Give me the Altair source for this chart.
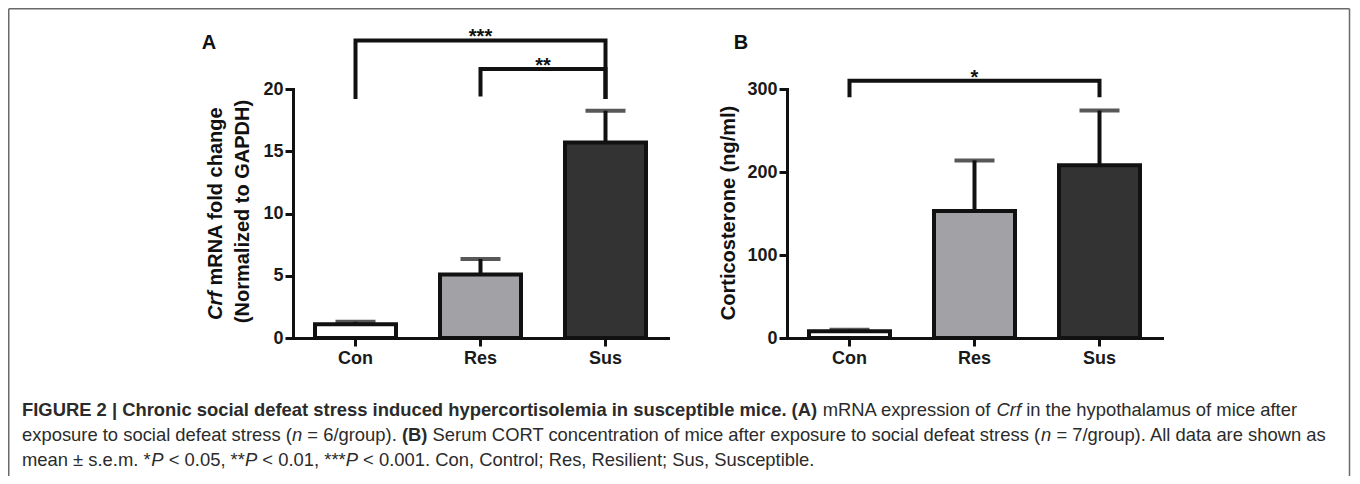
import math
import altair as alt
import pandas as pd

# ---------------- data ----------------
groups = ["Con", "Res", "Sus"]
crf_mean = [1.1, 5.1, 15.7]
crf_sem = [0.2, 1.25, 2.55]
cort_mean = [8.0, 153.0, 208.0]
cort_sem = [2.0, 61.0, 66.0]
crf_ticks = [0, 5, 10, 15, 20]
cort_ticks = [0, 100, 200, 300]

crf_br_from = ["Con", "Res"]
crf_br_to = ["Sus", "Sus"]
crf_br_top = [23.9, 21.6]
crf_br_left = [19.2, 19.4]
crf_br_right = [19.2, 19.2]
crf_br_label = ["***", "**"]

cort_br_from = ["Con"]
cort_br_to = ["Sus"]
cort_br_top = [310.0]
cort_br_left = [290.0]
cort_br_right = [290.0]
cort_br_label = ["*"]

caption_lines = [
    [("FIGURE 2 | Chronic social defeat stress induced hypercortisolemia in susceptible mice. (A)", "b"),
     (" mRNA expression of ", "n"), ("Crf", "i"), (" in the hypothalamus of mice after", "n")],
    [("exposure to social defeat stress (", "n"), ("n", "i"), (" = 6/group). ", "n"), ("(B)", "b"),
     (" Serum CORT concentration of mice after exposure to social defeat stress (", "n"), ("n", "i"),
     (" = 7/group). All data are shown as", "n")],
    [("mean \u00b1 s.e.m. *", "n"), ("P", "i"), (" < 0.05, **", "n"), ("P", "i"), (" < 0.01, ***", "n"),
     ("P", "i"), (" < 0.001. Con, Control; Res, Resilient; Sus, Susceptible.", "n")],
]

# ---------------- style ----------------
FONT = "Liberation Sans"
INK = "#111111"
fills = ["#ffffff", "#a2a2a6", "#333333"]
W, H = 375, 249
STEP = W / len(groups)
AX0, AY0 = 293, 89      # panel A plot origin (page px)
BX0 = 787               # panel B plot origin x

# Arial / Liberation Sans advance widths (1/1000 em)
REG = {' ': 278, '!': 278, '(': 333, ')': 333, '*': 389, '+': 584, ',': 278, '-': 333, '.': 278,
       '/': 278, ':': 278, ';': 278, '<': 584, '=': 584, '>': 584, '\u00b1': 584, '|': 260}
REG.update({d: 556 for d in "0123456789"})
REG.update(dict(zip("ABCDEFGHIJKLMNOPQRSTUVWXYZ",
                    [667, 667, 722, 722, 667, 611, 778, 722, 278, 500, 667, 556, 833, 722, 778, 667,
                     778, 722, 667, 611, 722, 667, 944, 667, 667, 611])))
REG.update(dict(zip("abcdefghijklmnopqrstuvwxyz",
                    [556, 556, 500, 556, 556, 278, 556, 556, 222, 222, 500, 222, 833, 556, 556, 556,
                     556, 333, 500, 278, 556, 500, 722, 500, 500, 500])))
BOLD = {' ': 278, '(': 333, ')': 333, '*': 389, ',': 278, '.': 278, '/': 278, ':': 333, ';': 333,
        '|': 280, '<': 584, '=': 584}
BOLD.update({d: 556 for d in "0123456789"})
BOLD.update(dict(zip("ABCDEFGHIJKLMNOPQRSTUVWXYZ",
                     [722, 722, 722, 722, 667, 611, 778, 722, 278, 556, 722, 611, 833, 722, 778, 667,
                      778, 722, 667, 611, 722, 667, 944, 667, 667, 611])))
BOLD.update(dict(zip("abcdefghijklmnopqrstuvwxyz",
                     [556, 611, 556, 611, 556, 333, 611, 611, 278, 278, 556, 278, 889, 611, 611, 611,
                      611, 389, 556, 333, 611, 556, 778, 556, 556, 500])))


def tw(s, style, size):
    table = BOLD if style == "b" else REG
    return sum(table.get(c, 556) for c in s) * size / 1000.0


def txt(s, x, y, size, weight="normal", style="normal", angle=0, align="left",
        baseline="alphabetic", color=INK):
    kw = dict(font=FONT, fontSize=size, fontWeight=weight, fontStyle=style, align=align,
              baseline=baseline, color=color)
    if angle:
        kw["angle"] = angle
    return alt.Chart(pd.DataFrame({"t": [s]})).mark_text(**kw).encode(
        text="t:N", x=alt.value(x), y=alt.value(y))


def frame_rule(x1, y1, x2, y2):
    return alt.Chart(pd.DataFrame({"a": [0]})).mark_rule(color="#6a6a6a", strokeWidth=1.5).encode(
        x=alt.value(x1), x2=alt.value(x2), y=alt.value(y1), y2=alt.value(y2))


def panel(means, sems, ymax, ticks, br_from, br_to, br_top, br_left, br_right, br_label, extras):
    df = pd.DataFrame({"group": groups, "mean": means,
                       "upper": [m + s for m, s in zip(means, sems)]})
    xs = alt.Scale(domain=groups, paddingInner=0, paddingOuter=0)
    ys = alt.Scale(domain=[0, ymax], nice=False, zero=True)
    xax = alt.Axis(title=None, labelAngle=0)
    yax = alt.Axis(title=None, values=ticks, format="d")
    X = alt.X("group:N", scale=xs, axis=xax, sort=groups)

    def Y(f):
        return alt.Y(f, scale=ys, axis=yax)

    base = alt.Chart(df)
    err = base.mark_rule(color=INK, strokeWidth=4).encode(x=X, y=Y("mean:Q"), y2="upper:Q")
    cap = base.mark_tick(color=INK, size=40, thickness=4).encode(x=X, y=Y("upper:Q"))
    bars = base.mark_bar(size=81, stroke=INK, strokeWidth=4).encode(
        x=X, y=Y("mean:Q"),
        fill=alt.Fill("group:N", scale=alt.Scale(domain=groups, range=fills), legend=None))

    rows = []
    for i, (a, b, t, l, r) in enumerate(zip(br_from, br_to, br_top, br_left, br_right)):
        rows += [dict(group=a, val=l, k=0, b=i), dict(group=a, val=t, k=1, b=i),
                 dict(group=b, val=t, k=2, b=i), dict(group=b, val=r, k=3, b=i)]
    brk = alt.Chart(pd.DataFrame(rows)).mark_line(
        color=INK, strokeWidth=4, strokeJoin="miter", strokeCap="butt").encode(
        x=X, y=Y("val:Q"), detail="b:N", order="k:Q")

    stars = []
    for a, b, t, lab in zip(br_from, br_to, br_top, br_label):
        mid = (groups.index(a) + groups.index(b)) / 2
        bi = int(math.floor(mid))
        dx = (mid - bi) * STEP
        mk = dict(font=FONT, fontSize=20, fontWeight="bold", color=INK, baseline="alphabetic", dy=3)
        if dx:
            mk["dx"] = dx
        stars.append(alt.Chart(pd.DataFrame({"group": [groups[bi]], "val": [t], "t": [lab]}))
                     .mark_text(**mk).encode(x=X, y=Y("val:Q"), text="t:N"))
    return alt.layer(err, cap, bars, brk, *stars, *extras).properties(width=W, height=H)


# ---------------- panel A extras (coordinates relative to panel A origin) ----------------
def ra(px, py):
    return px - AX0, py - AY0


extrasA = []
x, y = ra(209, 43)
extrasA.append(txt("A", x, y, 20, weight="bold", align="center", baseline="middle"))
x, y = ra(215.5, 320)
extrasA.append(txt("Crf", x, y, 20, weight="bold", style="italic", angle=270, baseline="middle"))
extrasA.append(txt("mRNA fold change", x, y - tw("Crf ", "b", 20), 20, weight="bold", angle=270,
                   baseline="middle"))
x, y = ra(243, 211.5)
extrasA.append(txt("(Normalized to GAPDH)", x, y, 20, weight="bold", angle=270, align="center",
                   baseline="middle"))

# frame (left, top, right) around the figure
L, T = ra(8.75, 8.75)
R, B = ra(1349.5, 476)
extrasA += [frame_rule(L, T, R, T), frame_rule(L, T, L, B), frame_rule(R, T, R, B)]

# caption
CAP = 18.4
for li, line in enumerate(caption_lines):
    cx, cy = ra(22, 416 + 25 * li)
    for seg, st in line:
        lead = len(seg) - len(seg.lstrip(" "))
        s = seg.strip(" ")
        if s:
            extrasA.append(txt(s, cx + tw(" " * lead, st, CAP), cy, CAP,
                               weight="bold" if st == "b" else "normal",
                               style="italic" if st == "i" else "normal",
                               color="#2b2b2b"))
        cx += tw(seg, st, CAP)

# ---------------- panel B extras ----------------
extrasB = [
    txt("B", 741 - BX0, 43 - AY0, 20, weight="bold", align="center", baseline="middle"),
    txt("Corticosterone (ng/ml)", 729 - BX0, 213 - AY0, 20, weight="bold", angle=270,
        align="center", baseline="middle"),
]

pA = panel(crf_mean, crf_sem, 20, crf_ticks, crf_br_from, crf_br_to, crf_br_top, crf_br_left,
           crf_br_right, crf_br_label, extrasA)
pB = panel(cort_mean, cort_sem, 300, cort_ticks, cort_br_from, cort_br_to, cort_br_top,
           cort_br_left, cort_br_right, cort_br_label, extrasB)

chart = (
    alt.hconcat(pA, pB, spacing=BX0 - AX0 - W, bounds="flush")
    .properties(padding=0)
    .configure_view(stroke=None)
    .configure_axis(domainColor=INK, domainWidth=3, domainCap="square", tickColor=INK, tickWidth=3,
                    tickSize=8, labelFont=FONT, labelFontSize=18, labelFontWeight="bold",
                    labelColor="#1a1a1a", grid=False)
    .configure_axisX(labelPadding=3)
    .configure_axisY(labelPadding=2)
)

chart.save("out.html", embed_options={"renderer": "svg", "actions": False})
